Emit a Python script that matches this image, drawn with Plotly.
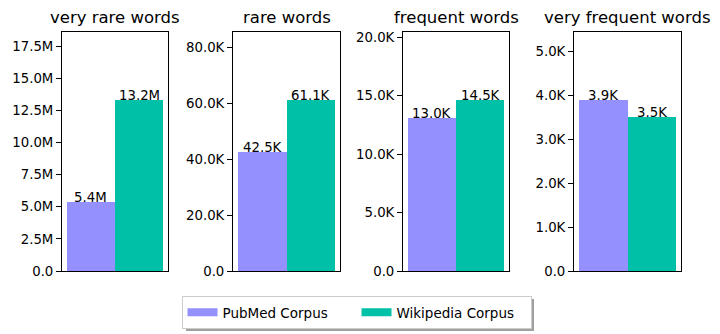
import plotly.graph_objects as go
from plotly.subplots import make_subplots

# word frequency buckets and the two corpora
categories = ["very rare words", "rare words", "frequent words", "very frequent words"]
series_names = ["PubMed Corpus", "Wikipedia Corpus"]
pubmed_counts = [5.37e6, 42.5e3, 13.06e3, 3.886e3]
wikipedia_counts = [13.28e6, 61.07e3, 14.6e3, 3.5e3]
pubmed_labels = ["5.4M", "42.5K", "13.0K", "3.9K"]
wikipedia_labels = ["13.2M", "61.1K", "14.5K", "3.5K"]
ytick_values = [
    [0, 2.5e6, 5e6, 7.5e6, 10e6, 12.5e6, 15e6, 17.5e6],
    [0, 20e3, 40e3, 60e3, 80e3],
    [0, 5e3, 10e3, 15e3, 20e3],
    [0, 1e3, 2e3, 3e3, 4e3, 5e3],
]

colors = ["#9491fe", "#00c0a8"]
FONT = "DejaVu Sans"

# the page body has an 8px margin, so the figure is shrunk and shifted to compensate
OFF = 8
W, H = 720 - OFF, 334 - OFF


def px_x(p):
    return (p - OFF) / W


def px_y(p):
    return 1 - (p - OFF) / H


def fmt_tick(v):
    # matplotlib-style K / M formatter
    if v >= 1e6:
        return "%.1fM" % (v / 1e6)
    if v >= 1e3:
        return "%.1fK" % (v / 1e3)
    return "%.1f" % v


# axes boxes in screen pixels (left, right), shared top/bottom
x_boxes = [(62, 168), (233, 340), (403, 509), (574, 681)]
y_top, y_bottom = 32, 271

fig = make_subplots(rows=1, cols=4)

xs = [-0.5, 0.5]
for i, cat in enumerate(categories):
    col = i + 1
    vals = [pubmed_counts[i], wikipedia_counts[i]]
    labels = [pubmed_labels[i], wikipedia_labels[i]]
    for j in range(2):
        fig.add_trace(go.Bar(x=[xs[j]], y=[vals[j]], width=1.0,
                             marker=dict(color=colors[j], line=dict(width=0)),
                             name=series_names[j], showlegend=False,
                             hovertemplate="%{y}<extra>" + series_names[j] + "</extra>"),
                      row=1, col=col)
        fig.add_annotation(x=xs[j], y=vals[j], text=labels[j], showarrow=False,
                           xref="x%d" % col if col > 1 else "x",
                           yref="y%d" % col if col > 1 else "y",
                           xanchor="center", yanchor="bottom", yshift=-5,
                           font=dict(family=FONT, size=13.3, color="black"))

    x0, x1 = x_boxes[i]
    fig.update_xaxes(domain=[px_x(x0), px_x(x1)], range=[-1.1, 1.1], automargin=False,
                     showticklabels=False, ticks="", showgrid=False, zeroline=False,
                     showline=True, linecolor="black", linewidth=1, mirror=True,
                     row=1, col=col)
    top = 1.4 * max(vals)
    fig.update_yaxes(domain=[px_y(y_bottom), px_y(y_top)], range=[0, top],
                     automargin=False,
                     tickvals=ytick_values[i],
                     ticktext=[fmt_tick(v) for v in ytick_values[i]],
                     ticks="outside", ticklen=5, tickcolor="black", tickwidth=1,
                     showgrid=False, zeroline=False,
                     showline=True, linecolor="black", linewidth=1, mirror=True,
                     tickfont=dict(family=FONT, size=13.3, color="black"),
                     row=1, col=col)

    # subplot title
    fig.add_annotation(x=px_x((x0 + x1) / 2), y=px_y(y_top), xref="paper", yref="paper",
                       text=cat, showarrow=False, xanchor="center", yanchor="bottom",
                       yshift=3, font=dict(family=FONT, size=16.5, color="black"))

# legend entries drawn as wide line patches
for j in range(2):
    fig.add_trace(go.Scatter(x=[None], y=[None], mode="lines", name=series_names[j],
                             line=dict(color=colors[j], width=8), showlegend=True))

# legend shadow, offset down-right of the legend box
fig.add_shape(type="rect", xref="paper", yref="paper",
              x0=px_x(186), x1=px_x(534), y0=px_y(331), y1=px_y(299),
              fillcolor="#a0a0a0", line=dict(width=0), layer="above")

fig.update_layout(
    width=W, height=H,
    margin=dict(l=0, r=0, t=0, b=0),
    plot_bgcolor="white", paper_bgcolor="white",
    font=dict(family=FONT, size=13.3, color="black"),
    bargap=0,
    legend=dict(orientation="h", x=px_x(356.5), xanchor="center",
                y=px_y(296), yanchor="top",
                bgcolor="white", bordercolor="#cccccc", borderwidth=1,
                entrywidth=129, entrywidthmode="pixels",
                font=dict(family=FONT, size=13.5, color="black")),
)

fig.write_html("out.html")
